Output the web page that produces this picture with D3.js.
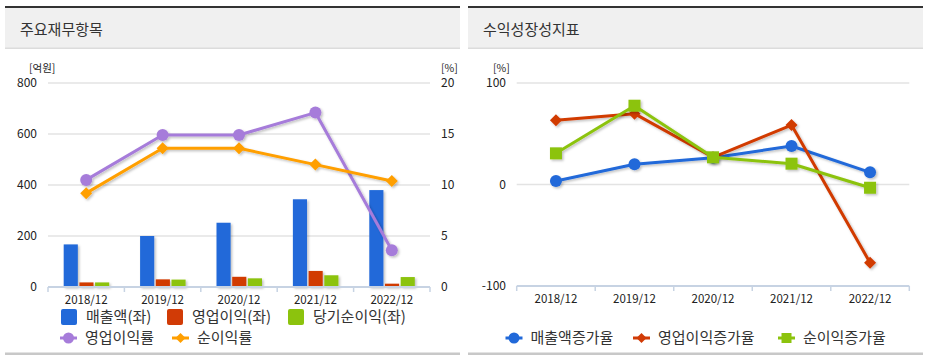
<!DOCTYPE html>
<html><head><meta charset="utf-8">
<script src="https://cdn.jsdelivr.net/npm/d3@7"></script>
<style>
body{margin:0;background:#fff;}
text{font-family:"Noto Sans CJK KR","Noto Sans",sans-serif;}
</style>
</head><body>
<svg id="c" width="931" height="357"></svg>
<script>
const categories=["2018/12","2019/12","2020/12","2021/12","2022/12"];
const sales=[167,200,252,344,380];
const opProfit=[18,30,40,63,13];
const netProfit=[18,29,34,46,39];
const opMargin=[10.5,14.9,14.9,17.1,3.6];
const netMargin=[9.2,13.6,13.6,12.0,10.4];
const salesGrowth=[3.4,19.9,26.4,37.9,12.0];
const opGrowth=[63.2,69.8,26.8,58.6,-77];
const netGrowth=[30.7,77.6,26.8,20.5,-3.2];
const leftTicks=[0,200,400,600,800];
const rightTicks=[0,5,10,15,20];
const growthTicks=[-100,0,100];

const C={blue:"#2169d9",red:"#d13b06",green:"#8cc30d",purple:"#a67cda",orange:"#ff9f00"};
const svg=d3.select("#c");
const defs=svg.append("defs");
const f=defs.append("filter").attr("id","sh").attr("x","-20%").attr("y","-20%").attr("width","140%").attr("height","140%");
f.append("feDropShadow").attr("dx",1.5).attr("dy",1.5).attr("stdDeviation",1).attr("flood-color","#000").attr("flood-opacity",0.25);

function panel(x0,x1,title){
  svg.append("rect").attr("x",x0).attr("y",8).attr("width",x1-x0).attr("height",40).attr("fill","#f0f0f0");
  svg.append("rect").attr("x",x0).attr("y",6).attr("width",x1-x0).attr("height",2).attr("fill","#333");
  svg.append("rect").attr("x",x0).attr("y",47.5).attr("width",x1-x0).attr("height",1.5).attr("fill","#dcdcdc");
  svg.append("rect").attr("x",x0).attr("y",352.5).attr("width",x1-x0).attr("height",2.5).attr("fill","#c8c8c8");
  svg.append("text").attr("x",x0+15).attr("y",35).attr("font-size",15).attr("fill","#333").text(title);
}
panel(5,460,"주요재무항목");
panel(468,923,"수익성장성지표");

function marker(g,type,x,y,color,s){
  if(type==="circle") g.append("circle").attr("cx",x).attr("cy",y).attr("r",s).attr("fill",color);
  else if(type==="diamond") g.append("path").attr("d",`M${x},${y-s}L${x+s},${y}L${x},${y+s}L${x-s},${y}Z`).attr("fill",color);
  else g.append("rect").attr("x",x-s).attr("y",y-s).attr("width",2*s).attr("height",2*s).attr("fill",color);
}

function xAxis(x,yPos){
  const g=svg.append("g");
  const [a,b]=x.range();
  g.append("line").attr("x1",a).attr("x2",b).attr("y1",yPos).attr("y2",yPos).attr("stroke","#c7d3e3").attr("stroke-width",2);
  const bounds=categories.map(c=>x(c)).concat([b]);
  bounds.forEach(v=>g.append("line").attr("x1",v).attr("x2",v).attr("y1",yPos).attr("y2",yPos+5).attr("stroke","#c7d3e3").attr("stroke-width",1.5));
  categories.forEach(c=>g.append("text").attr("x",x(c)+x.bandwidth()/2).attr("y",yPos+17).attr("text-anchor","middle").attr("font-size",11.5).attr("fill","#222").text(c));
}

// ---------- Left chart ----------
const xL=d3.scaleBand().domain(categories).range([48,430]);
const yL=d3.scaleLinear().domain([0,800]).range([287,83]);
const yR=d3.scaleLinear().domain([0,20]).range([287,83]);
const sub=d3.scaleBand().domain([0,1,2]).range([-22.5,23]).paddingInner(0.1);

leftTicks.filter(t=>t>0).forEach(t=>svg.append("line").attr("x1",48).attr("x2",430).attr("y1",yL(t)).attr("y2",yL(t)).attr("stroke","#e3e3e3").attr("stroke-width",1.5));
leftTicks.forEach(t=>svg.append("text").attr("x",37).attr("y",yL(t)).attr("dy","0.35em").attr("text-anchor","end").attr("font-size",12).attr("fill","#222").text(t));
rightTicks.forEach(t=>svg.append("text").attr("x",441).attr("y",yR(t)).attr("dy","0.35em").attr("font-size",12).attr("fill","#222").text(t));
svg.append("text").attr("x",29).attr("y",68).attr("dy","0.35em").attr("font-size",10.5).attr("fill","#222").text("[억원]");
svg.append("text").attr("x",441).attr("y",68).attr("dy","0.35em").attr("font-size",10.5).attr("fill","#222").text("[%]");

const barSeries=[sales,opProfit,netProfit], barColors=[C.blue,C.red,C.green];
const bg=svg.append("g").attr("filter","url(#sh)");
barSeries.forEach((s,i)=>{
  bg.selectAll(null).data(s).enter().append("rect")
    .attr("x",(d,j)=>xL(categories[j])+xL.bandwidth()/2+sub(i))
    .attr("width",sub.bandwidth())
    .attr("y",d=>yL(d)).attr("height",d=>yL(0)-yL(d)).attr("fill",barColors[i]);
});
xAxis(xL,287);

function drawLine(vals,x,y,color,type,s){
  const g=svg.append("g").attr("filter","url(#sh)");
  const line=d3.line().x((d,j)=>x(categories[j])+x.bandwidth()/2).y(d=>y(d));
  g.append("path").datum(vals).attr("d",line).attr("fill","none").attr("stroke",color).attr("stroke-width",3).attr("stroke-linejoin","round");
  vals.forEach((d,j)=>marker(g,type,x(categories[j])+x.bandwidth()/2,y(d),color,s));
}
drawLine(opMargin,xL,yR,C.purple,"circle",6);
drawLine(netMargin,xL,yR,C.orange,"diamond",6);

// legends
function legendBox(x,y,color,label){
  svg.append("rect").attr("x",x).attr("y",y-8).attr("width",16).attr("height",16).attr("rx",2).attr("fill",color);
  svg.append("text").attr("x",x+25).attr("y",y).attr("dy","0.35em").attr("font-size",15).attr("fill","#333").text(label);
}
function legendLine(x,y,color,type,s,label){
  svg.append("line").attr("x1",x).attr("x2",x+17).attr("y1",y).attr("y2",y).attr("stroke",color).attr("stroke-width",3);
  const g=svg.append("g");
  marker(g,type,x+8.5,y,color,s);
  svg.append("text").attr("x",x+25).attr("y",y).attr("dy","0.35em").attr("font-size",15).attr("fill","#333").text(label);
}
legendBox(61,317,C.blue,"매출액(좌)");
legendBox(167,317,C.red,"영업이익(좌)");
legendBox(288,317,C.green,"당기순이익(좌)");
legendLine(60,338,C.purple,"circle",5.5,"영업이익률");
legendLine(172,338,C.orange,"diamond",5,"순이익률");

// ---------- Right chart ----------
const xG=d3.scaleBand().domain(categories).range([516.7,909.3]);
const yG=d3.scaleLinear().domain([-100,100]).range([286,83]);
growthTicks.filter(t=>t>-100).forEach(t=>svg.append("line").attr("x1",516.7).attr("x2",909.3).attr("y1",yG(t)).attr("y2",yG(t)).attr("stroke","#e3e3e3").attr("stroke-width",1.5));
growthTicks.forEach(t=>svg.append("text").attr("x",506).attr("y",yG(t)).attr("dy","0.35em").attr("text-anchor","end").attr("font-size",12).attr("fill","#222").text(t));
svg.append("text").attr("x",493).attr("y",68).attr("dy","0.35em").attr("font-size",10.5).attr("fill","#222").text("[%]");
xAxis(xG,286);
drawLine(salesGrowth,xG,yG,C.blue,"circle",6);
drawLine(opGrowth,xG,yG,C.red,"diamond",6);
drawLine(netGrowth,xG,yG,C.green,"square",6);

legendLine(505.5,338,C.blue,"circle",5.5,"매출액증가율");
legendLine(633,338,C.red,"diamond",5,"영업이익증가율");
legendLine(778,338,C.green,"square",5,"순이익증가율");
</script>
</body></html>
